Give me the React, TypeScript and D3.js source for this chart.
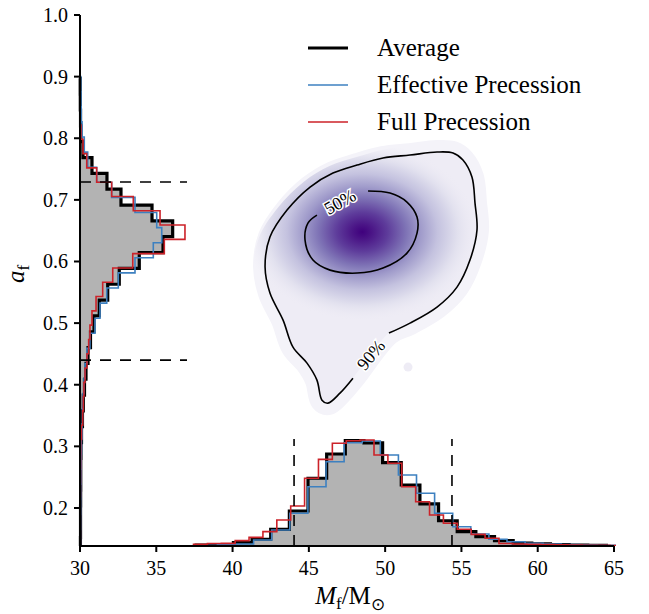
import React from 'react';
import * as d3 from 'd3';

// ---------- data ----------
const xTicks = [30, 35, 40, 45, 50, 55, 60, 65];
const yTicks = [0.2, 0.3, 0.4, 0.5, 0.6, 0.7, 0.8, 0.9, 1.0];

// Final mass histograms (normalised heights), bins: start + i*width
const mfAvgStart = 37.61, mfAvgWidth = 1.2224;
const mfAvg = [0.009, 0.014, 0.031, 0.063, 0.156, 0.327, 0.633, 0.860, 0.984, 0.963, 0.779, 0.570, 0.393, 0.236, 0.134, 0.087, 0.050, 0.028, 0.019, 0.014, 0.009, 0.007];
const mfEffStart = 37.82, mfEffWidth = 1.1863;
const mfEff = [0.007, 0.014, 0.019, 0.056, 0.150, 0.306, 0.554, 0.788, 0.965, 0.981, 0.850, 0.664, 0.493, 0.306, 0.180, 0.112, 0.063, 0.040, 0.025, 0.019, 0.014, 0.009, 0.007];
const mfFullStart = 37.44, mfFullWidth = 0.91;
const mfFull = [0.016, 0.023, 0.025, 0.050, 0.081, 0.134, 0.243, 0.374, 0.633, 0.810, 0.960, 0.984, 0.991, 0.850, 0.773, 0.554, 0.414, 0.290, 0.212, 0.156, 0.109, 0.072, 0.023, 0.019, 0.017, 0.014, 0.011, 0.009, 0.007, 0.006, 0.005];

// Final spin histograms
const afAvgStart = 0.1262, afAvgWidth = 0.0257;
const afAvg = [0.004, 0.005, 0.005, 0.006, 0.007, 0.007, 0.009, 0.014, 0.023, 0.031, 0.042, 0.056, 0.075, 0.098, 0.131, 0.180, 0.259, 0.367, 0.554, 0.776, 0.866, 0.673, 0.383, 0.252, 0.112, 0.028, 0.009, 0.005, 0.003, 0.002];
const afEffStart = 0.1405, afEffWidth = 0.0245;
const afEff = [0.004, 0.005, 0.006, 0.007, 0.009, 0.011, 0.014, 0.019, 0.023, 0.028, 0.037, 0.047, 0.065, 0.093, 0.140, 0.187, 0.250, 0.358, 0.514, 0.685, 0.764, 0.717, 0.514, 0.296, 0.156, 0.072, 0.040, 0.019, 0.011, 0.009, 0.007];
const afFullStart = 0.1255, afFullWidth = 0.0232;
const afFull = [0.003, 0.003, 0.003, 0.003, 0.004, 0.005, 0.006, 0.007, 0.014, 0.025, 0.031, 0.037, 0.047, 0.065, 0.081, 0.093, 0.112, 0.150, 0.212, 0.306, 0.493, 0.788, 0.981, 0.748, 0.498, 0.296, 0.156, 0.063, 0.028, 0.009];

// 90% credible intervals
const mfInterval = [44.03, 54.38];
const afInterval = [0.440, 0.729];

// contours (Mf, af)
const contour90: [number, number][] = [
  [50.25, 0.4838], [51.63, 0.5000], [53.40, 0.5260], [54.71, 0.5584], [55.56, 0.6023], [56.02, 0.6510],
  [55.89, 0.6948], [55.69, 0.7370], [55.10, 0.7646], [54.45, 0.7760], [53.40, 0.7776], [51.63, 0.7727],
  [49.86, 0.7679], [48.16, 0.7565], [46.58, 0.7435], [45.08, 0.7208], [43.57, 0.6834], [42.45, 0.6396],
  [42.13, 0.5909], [42.45, 0.5487], [43.31, 0.5049], [43.96, 0.4610], [44.88, 0.4351], [45.53, 0.4075],
  [45.86, 0.3750], [46.25, 0.3701], [47.04, 0.3864], [47.89, 0.4107],
];
const contour50: [number, number][] = [
  [48.88, 0.7143], [50.32, 0.7110], [51.43, 0.6964], [52.09, 0.6721], [52.09, 0.6461], [51.43, 0.6136],
  [49.86, 0.5893], [48.16, 0.5812], [46.39, 0.5860], [45.27, 0.6023], [44.75, 0.6347], [44.94, 0.6623],
  [45.53, 0.6753],
];
const densityPeak = [48.5, 0.648];
const densitySpread = [7.6, 0.145];
const densityIsland = [51.5, 0.4286];

const legendItems = [
  { label: 'Average', color: '#000000', width: 3.2 },
  { label: 'Effective Precession', color: '#3d80c0', width: 1.6 },
  { label: 'Full Precession', color: '#cc2229', width: 1.6 },
];

// ---------- layout ----------
const W = 649, H = 614;
const L = 80, R = 614, T = 15, B = 546;
const serif = "'Liberation Serif', 'Times New Roman', serif";

export default function App() {
  const x = d3.scaleLinear().domain([30, 65]).range([L, R]);
  const y = d3.scaleLinear().domain([0.1383, 1.0]).range([B, T]);
  const hs = d3.scaleLinear().domain([0, 1]).range([0, 107]);

  const line = d3.line();

  const bottomPts = (start: number, width: number, vals: number[]) => {
    const pts: [number, number][] = [[x(start), B]];
    vals.forEach((v, i) => {
      const yy = B - hs(v);
      pts.push([x(start + i * width), yy], [x(start + (i + 1) * width), yy]);
    });
    pts.push([x(start + vals.length * width), B]);
    return pts;
  };
  const leftPts = (start: number, width: number, vals: number[]) => {
    const pts: [number, number][] = [[L, y(start)]];
    vals.forEach((v, i) => {
      const xx = L + hs(v);
      pts.push([xx, y(start + i * width)], [xx, y(start + (i + 1) * width)]);
    });
    pts.push([L, y(start + vals.length * width)]);
    return pts;
  };

  const mfAvgP = bottomPts(mfAvgStart, mfAvgWidth, mfAvg);
  const mfEffP = bottomPts(mfEffStart, mfEffWidth, mfEff);
  const mfFullP = bottomPts(mfFullStart, mfFullWidth, mfFull);
  const afAvgP = leftPts(afAvgStart, afAvgWidth, afAvg);
  const afEffP = leftPts(afEffStart, afEffWidth, afEff);
  const afFullP = leftPts(afFullStart, afFullWidth, afFull);

  const c90 = contour90.map(([a, b]) => [x(a), y(b)] as [number, number]);
  const c50 = contour50.map(([a, b]) => [x(a), y(b)] as [number, number]);
  const openCurve = d3.line().curve(d3.curveCatmullRom.alpha(0.5));
  const closedCurve = d3.line().curve(d3.curveCatmullRomClosed.alpha(0.5));

  const cx = x(densityPeak[0]), cy = y(densityPeak[1]);
  const rx = x(densityPeak[0] + densitySpread[0]) - cx;
  const ry = y(densityPeak[1] - densitySpread[1]) - cy;

  const gray = '#b3b3b3';
  const blue = legendItems[1].color;
  const red = legendItems[2].color;

  return (
    <svg width={W} height={H} style={{ position: 'absolute', left: 0, top: 0, background: '#fff' }}>
      <defs>
        <radialGradient id="dens">
          <stop offset="0" stopColor="#3f007d" />
          <stop offset="0.08" stopColor="#4a1486" />
          <stop offset="0.22" stopColor="#5e3c9b" />
          <stop offset="0.38" stopColor="#7f74b6" />
          <stop offset="0.5" stopColor="#9f9aca" />
          <stop offset="0.65" stopColor="#c4c2df" />
          <stop offset="0.82" stopColor="#e1e0ee" />
          <stop offset="1" stopColor="#eeecf5" stopOpacity="0" />
        </radialGradient>
        <clipPath id="plotclip">
          <rect x={L - 2} y={T - 5} width={R - L + 4} height={B - T + 5} />
        </clipPath>
        <clipPath id="densclip">
          <path d={closedCurve(c90) || ''} transform={`translate(${cx},${cy}) scale(1.12) translate(${-cx},${-cy})`} />
        </clipPath>
      </defs>

      {/* density */}
      <path d={closedCurve(c90) || ''} fill="#f4f3f9" stroke="#f4f3f9" strokeWidth={24} strokeLinejoin="round" />
      <path d={closedCurve(c90) || ''} fill="#eeecf5" />
      <circle cx={x(densityIsland[0])} cy={y(densityIsland[1])} r={4.5} fill="#eeecf5" />
      <ellipse cx={cx} cy={cy} rx={rx} ry={ry} fill="url(#dens)" clipPath="url(#densclip)" />
      <path d={openCurve(c90) || ''} fill="none" stroke="#000" strokeWidth={1.6} />
      <path d={openCurve(c50) || ''} fill="none" stroke="#000" strokeWidth={1.6} />
      <text x={340} y={202} fontFamily={serif} fontSize={18} textAnchor="middle" dominantBaseline="central"
        transform="rotate(-29 340 202)" fill="#000" stroke="#fff" strokeWidth={3} paintOrder="stroke">50%</text>
      <text x={371} y={355} fontFamily={serif} fontSize={18} textAnchor="middle" dominantBaseline="central"
        transform="rotate(-50 371 355)" fill="#000" stroke="#fff" strokeWidth={3} paintOrder="stroke">90%</text>

      {/* histograms */}
      <g clipPath="url(#plotclip)">
        <path d={(line(mfAvgP) || '') + 'Z'} fill={gray} stroke="none" />
        <path d={(line(afAvgP) || '') + 'Z'} fill={gray} stroke="none" />
        <path d={line(mfAvgP) || ''} fill="none" stroke="#000" strokeWidth={3.2} />
        <path d={line(afAvgP) || ''} fill="none" stroke="#000" strokeWidth={3.2} />
        <path d={line(mfEffP) || ''} fill="none" stroke={blue} strokeWidth={1.6} />
        <path d={line(afEffP) || ''} fill="none" stroke={blue} strokeWidth={1.6} />
        <path d={line(mfFullP) || ''} fill="none" stroke={red} strokeWidth={1.6} />
        <path d={line(afFullP) || ''} fill="none" stroke={red} strokeWidth={1.6} />
      </g>

      {/* interval dashed lines */}
      {mfInterval.map((m, i) => (
        <line key={'mv' + i} x1={x(m)} x2={x(m)} y1={B} y2={B - hs(1)} stroke="#000" strokeWidth={1.6} strokeDasharray="11,9" />
      ))}
      {afInterval.map((a, i) => (
        <line key={'ah' + i} x1={L} x2={L + hs(1)} y1={y(a)} y2={y(a)} stroke="#000" strokeWidth={1.6} strokeDasharray="11,9" />
      ))}

      {/* axes */}
      <line x1={L} x2={L} y1={T} y2={B} stroke="#000" strokeWidth={2} />
      <line x1={L} x2={R} y1={B} y2={B} stroke="#000" strokeWidth={2} />
      {xTicks.map(t => (
        <g key={'xt' + t}>
          <line x1={x(t)} x2={x(t)} y1={B} y2={B + 6} stroke="#000" strokeWidth={2} />
          <text x={x(t)} y={575} fontFamily={serif} fontSize={20} textAnchor="middle" fill="#000">{t}</text>
        </g>
      ))}
      {yTicks.map(t => (
        <g key={'yt' + t}>
          <line x1={L - 6} x2={L} y1={y(t)} y2={y(t)} stroke="#000" strokeWidth={2} />
          <text x={68} y={y(t)} dy="0.35em" fontFamily={serif} fontSize={20} textAnchor="end" fill="#000">{t.toFixed(1)}</text>
        </g>
      ))}

      {/* axis labels */}
      <text x={350} y={604} fontFamily={serif} fontSize={25} textAnchor="middle" fill="#000">
        <tspan fontStyle="italic">M</tspan>
        <tspan fontSize={17} dy={5}>f</tspan>
        <tspan dy={-5}>/M</tspan>
        <tspan fontSize={17} dy={6}>⊙</tspan>
      </text>
      <text x={24} y={274} fontFamily={serif} fontSize={25} textAnchor="middle" fill="#000" transform="rotate(-90 24 274)">
        <tspan fontStyle="italic">a</tspan>
        <tspan fontSize={17} dy={5}>f</tspan>
      </text>

      {/* legend */}
      {legendItems.map((it, i) => (
        <g key={it.label}>
          <line x1={308} x2={348} y1={48 + i * 37} y2={48 + i * 37} stroke={it.color} strokeWidth={it.width} />
          <text x={377} y={48 + i * 37} dy="0.33em" fontFamily={serif} fontSize={25} fill="#000">{it.label}</text>
        </g>
      ))}
    </svg>
  );
}
